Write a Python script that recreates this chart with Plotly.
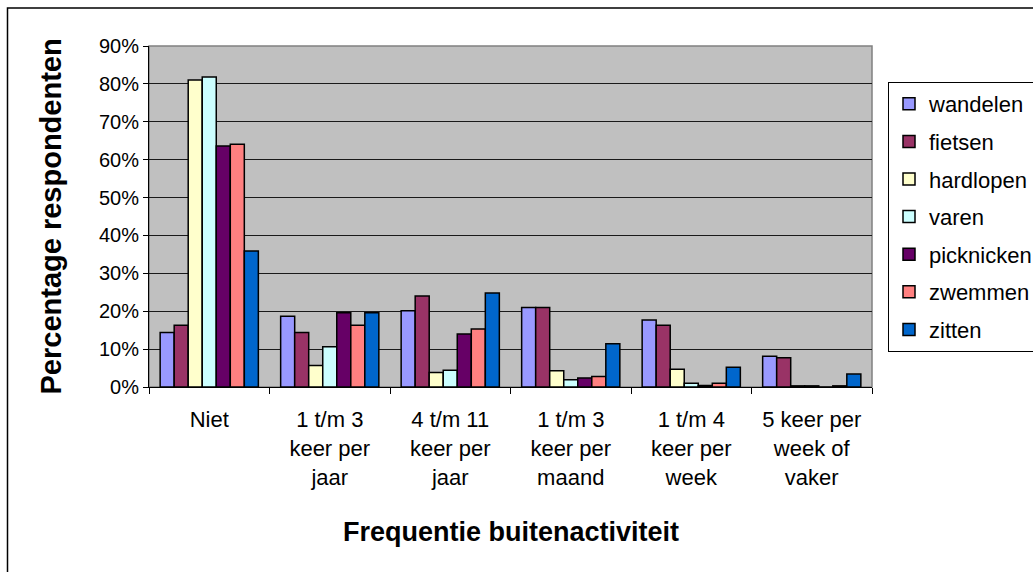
import plotly.graph_objects as go

# Frequency classes (x axis)
categories = [
    "Niet",
    "1 t/m 3<br>keer per<br>jaar",
    "4 t/m 11<br>keer per<br>jaar",
    "1 t/m 3<br>keer per<br>maand",
    "1 t/m 4<br>keer per<br>week",
    "5 keer per<br>week of<br>vaker",
]

# Share of respondents (%) per activity
wandelen = [14.4, 18.7, 20.1, 21.0, 17.7, 8.1]
fietsen = [16.3, 14.4, 24.0, 21.0, 16.3, 7.7]
hardlopen = [81.0, 5.7, 3.8, 4.3, 4.7, 0.3]
varen = [81.8, 10.6, 4.4, 1.9, 1.0, 0.3]
picknicken = [63.6, 19.6, 14.0, 2.4, 0.4, 0.0]
zwemmen = [64.1, 16.3, 15.3, 2.8, 1.0, 0.3]
zitten = [35.9, 19.6, 24.8, 11.4, 5.2, 3.4]

series = [
    ("wandelen", wandelen, "#9999FF"),
    ("fietsen", fietsen, "#993366"),
    ("hardlopen", hardlopen, "#FFFFCC"),
    ("varen", varen, "#CCFFFF"),
    ("picknicken", picknicken, "#660066"),
    ("zwemmen", zwemmen, "#FF8080"),
    ("zitten", zitten, "#0066CC"),
]

FONT = "Liberation Sans, Arial, sans-serif"

fig = go.Figure()
for name, vals, color in series:
    fig.add_trace(go.Bar(
        name=name, x=categories, y=vals, legendgroup=name,
        marker=dict(color=color, line=dict(color="black", width=1.5)),
    ))

W, H = 1033, 572
L, R, T, B = 149, 161, 46, 185
pw, ph = W - L - R, H - T - B

def px(x):
    return (x - L) / pw

def py(y):
    return (H - B - y) / ph

fig.update_layout(
    width=W, height=H,
    margin=dict(l=L, r=R, t=T, b=B, autoexpand=False),
    paper_bgcolor="white",
    plot_bgcolor="#C0C0C0",
    barmode="group",
    bargap=0.185,
    bargroupgap=0,
    font=dict(family=FONT, color="black"),
    showlegend=True,
    legend=dict(
        x=px(888), y=py(82), xanchor="left", yanchor="top",
        bgcolor="white", bordercolor="black", borderwidth=1,
        font=dict(size=22, family=FONT, color="black"),
        tracegroupgap=6,
    ),
    xaxis=dict(
        showgrid=False, zeroline=False,
        showline=True, linecolor="black", linewidth=1,
        ticks="outside", tickson="boundaries", ticklen=6, tickcolor="black",
        ticklabelstandoff=13,
        tickfont=dict(size=22, family=FONT, color="black"),
    ),
    yaxis=dict(
        range=[0, 90], dtick=10, ticksuffix="%",
        showgrid=True, gridcolor="#1a1a1a", gridwidth=1,
        zeroline=False,
        showline=True, linecolor="black", linewidth=1,
        ticks="outside", ticklen=5, tickcolor="black",
        tickfont=dict(size=20, family=FONT, color="black"),
    ),
    shapes=[
        # plot-area frame
        dict(type="rect", xref="paper", yref="paper", x0=0, x1=1, y0=0, y1=1,
             line=dict(color="#808080", width=1.5), layer="below"),
        # outer chart frame
        dict(type="rect", xref="paper", yref="paper",
             x0=px(7.5), x1=px(W + 20), y0=py(H + 20), y1=py(8),
             line=dict(color="black", width=1.5)),
    ],
    annotations=[
        dict(text="<b>Percentage respondenten</b>", xref="paper", yref="paper",
             x=px(50), y=0.5, textangle=-90, showarrow=False,
             xanchor="center", yanchor="middle",
             font=dict(size=29, family=FONT, color="black")),
        dict(text="<b>Frequentie buitenactiviteit</b>", xref="paper", yref="paper",
             x=0.5, y=py(532), showarrow=False,
             xanchor="center", yanchor="middle",
             font=dict(size=27, family=FONT, color="black")),
    ],
)

fig.write_html("out.html")
